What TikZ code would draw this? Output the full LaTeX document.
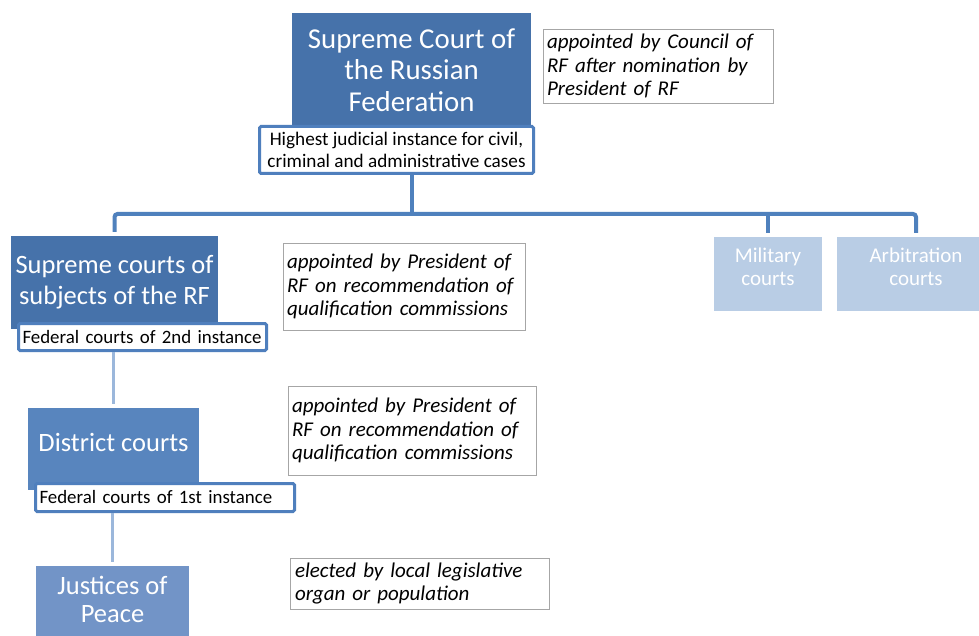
\documentclass[tikz,border=0pt]{standalone}
\usepackage{fontspec}
\setmainfont{Carlito}
\definecolor{darkbox}{RGB}{70,114,170}
\definecolor{midbox}{RGB}{88,133,190}
\definecolor{lightbox}{RGB}{114,148,199}
\definecolor{paleblue}{RGB}{185,205,229}
\definecolor{instline}{RGB}{79,127,189}
\definecolor{connblue}{RGB}{79,129,189}
\definecolor{connpale}{RGB}{155,183,219}
\definecolor{notegray}{RGB}{166,166,166}
\begin{document}
\begin{tikzpicture}[x=1pt,y=-1pt,
  court/.style={draw=none, inner sep=0pt, text=white, align=center},
  inst/.style={draw=instline, line width=3pt, fill=white, rounded corners=1.5pt, inner xsep=4pt, inner ysep=0pt, font=\fontsize{19.2}{21.5}\selectfont},
  note/.style={draw=notegray, line width=0.9pt, fill=white, inner xsep=4pt, inner ysep=0pt, align=left, font=\fontsize{21}{23.5}\selectfont\itshape},
  conn/.style={draw=connblue, line width=4pt},
  connlight/.style={draw=connpale, line width=3.5pt}]
\useasboundingbox (0,0) rectangle (979,636);
\clip (0,0) rectangle (979,636);
\fill[white] (0,0) rectangle (979,636);

% court boxes
\node[court, fill=darkbox, minimum width=239pt, minimum height=114pt, font=\fontsize{28.8}{31.5}\selectfont] (sc) at (411.5,70) {Supreme Court of\\the Russian\\Federation};
\node[court, fill=darkbox, minimum width=207pt, minimum height=93pt, font=\fontsize{26.5}{31}\selectfont] (sup2) at (114.5,282.5) {\raisebox{5.5pt}{\begin{tabular}{@{}c@{}}Supreme courts of\\[0pt]subjects of the RF\end{tabular}}};
\node[court, fill=midbox, minimum width=171pt, minimum height=82pt, font=\fontsize{26.5}{31}\selectfont] (dist) at (113.5,449) {\raisebox{14pt}{District courts}};
\node[court, fill=lightbox, minimum width=153pt, minimum height=74pt, font=\fontsize{26.5}{29}\selectfont] (jp) at (112.5,603) {\raisebox{11pt}{\begin{tabular}{@{}c@{}}Justices of\\[-1pt]Peace\end{tabular}}};
\node[court, fill=paleblue, minimum width=108pt, minimum height=74pt, font=\fontsize{21}{23}\selectfont] (mil) at (768,274) {\raisebox{-1pt}[0pt][0pt]{\begin{tabular}{@{}c@{}}Military\\[0pt]courts\end{tabular}}};
\node[court, fill=paleblue, minimum width=158pt, minimum height=74pt, font=\fontsize{21}{23}\selectfont] (arb) at (916,274) {\raisebox{-1pt}[0pt][0pt]{\begin{tabular}{@{}c@{}}Arbitration\\[0pt]courts\end{tabular}}};

% instance labels
\node[inst, minimum width=274pt, minimum height=47pt, align=center] (sub1) at (396.5,150) {Highest judicial instance for civil,\\criminal and administrative cases};
\node[inst, minimum width=248pt, minimum height=27pt, text width=240pt, align=left, font=\fontsize{18.9}{21.5}\selectfont] (sub2) at (142.5,337) {\mbox{Federal courts of 2nd instance}};
\node[inst, minimum width=259pt, minimum height=28pt, text width=251pt, align=left, font=\fontsize{18.9}{21.5}\selectfont] (sub3) at (165,497.5) {\mbox{Federal courts of 1st instance}};

% notes
\node[note, text width=222pt, minimum height=74pt] (n1) at (658,66) {appointed by Council of\\RF after nomination by\\President of RF};
\node[note, text width=234pt, minimum height=87pt] (n2) at (404,286.5) {appointed by President of\\RF on recommendation of\\qualification commissions};
\node[note, text width=240pt, minimum height=89pt] (n3) at (412,430.5) {appointed by President of\\RF on recommendation of\\qualification commissions};
\node[note, text width=249pt, minimum height=51pt, inner xsep=5pt] (n4) at (419.5,583.5) {elected by local legislative\\organ or population};

% connectors
\coordinate (bus) at (411.5,214);
\draw[conn] (sub1.south -| sc.south) -- (bus);
\draw[conn, rounded corners=3pt] ([yshift=4pt]sup2.north) |- (bus) -| ([yshift=4pt]arb.north);
\draw[conn] (bus -| mil.north) -- ([yshift=4pt]mil.north);
\draw[connlight] (dist.north |- sub2.south) -- ([yshift=4pt]dist.north);
\draw[connlight] (jp.north |- sub3.south) -- ([yshift=4pt]jp.north);
\end{tikzpicture}
\end{document}
